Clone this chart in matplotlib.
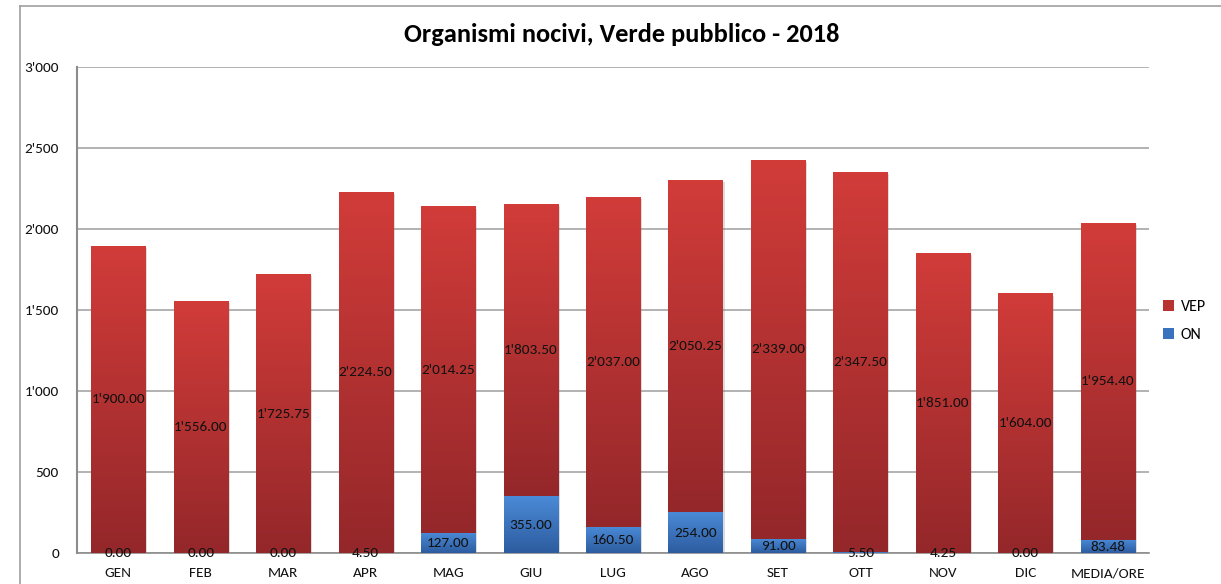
import numpy as np
import matplotlib
matplotlib.use("Agg")
import matplotlib.pyplot as plt
from matplotlib.colors import LinearSegmentedColormap
from matplotlib.lines import Line2D
import matplotlib.patheffects as pe

plt.rcParams['font.family'] = ['Carlito', 'Open Sans', 'DejaVu Sans']

mesi = ["GEN", "FEB", "MAR", "APR", "MAG", "GIU", "LUG", "AGO", "SET", "OTT", "NOV", "DIC", "MEDIA/ORE"]
on = [0.00, 0.00, 0.00, 4.50, 127.00, 355.00, 160.50, 254.00, 91.00, 5.50, 4.25, 0.00, 83.48]
vep = [1900.00, 1556.00, 1725.75, 2224.50, 2014.25, 1803.50, 2037.00, 2050.25, 2339.00, 2347.50, 1851.00, 1604.00, 1954.40]
yticks = [0, 500, 1000, 1500, 2000, 2500, 3000]


def fmt(v):
    return f"{v:,.2f}".replace(",", "'")


def fmt_tick(v):
    return f"{v:,.0f}".replace(",", "'")


red_cm = LinearSegmentedColormap.from_list("r", ["#94272a", "#d13c39"])
blue_cm = LinearSegmentedColormap.from_list("b", ["#2d5c9f", "#4b8bd8"])

fig = plt.figure(figsize=(12.21, 5.84), dpi=100)
ax = fig.add_axes([77 / 1221, 1 - 553.3 / 584, (1149 - 77) / 1221, (553.3 - 67.3) / 584])

x = np.arange(len(mesi))
w = 0.655
grad = np.linspace(0, 1, 256).reshape(-1, 1)

shadow = [pe.SimplePatchShadow(offset=(1.5, -1.5), alpha=0.25, shadow_rgbFace="#777777"), pe.Normal()]

b_on = ax.bar(x, on, w, color="#3a73bd", zorder=2, label="ON", path_effects=shadow)
b_vep = ax.bar(x, vep, w, bottom=on, color="#b83232", zorder=2, label="VEP", path_effects=shadow)

# riempimento sfumato come in Excel
for bars, cm in [(b_on, blue_cm), (b_vep, red_cm)]:
    for p in bars:
        x0, y0 = p.get_x(), p.get_y()
        h = p.get_height()
        if h <= 0:
            continue
        im = ax.imshow(grad, extent=[x0, x0 + p.get_width(), y0, y0 + h], origin="lower",
                       aspect="auto", cmap=cm, zorder=3)
        im.set_clip_path(p)

for i in range(len(mesi)):
    ax.text(x[i], on[i] / 2, fmt(on[i]), ha="center", va="center", fontsize=11, color="#111111", zorder=5)
    ax.text(x[i], on[i] + vep[i] / 2, fmt(vep[i]), ha="center", va="center", fontsize=11, color="#111111", zorder=5)

ax.set_xlim(-0.5, len(mesi) - 0.5)
ax.set_ylim(0, 3000)
ax.set_yticks(yticks)
ax.set_yticklabels([fmt_tick(v) for v in yticks])
ax.set_xticks(x)
ax.set_xticklabels(mesi)
ax.tick_params(length=0, labelsize=11, colors="#111111")
ax.tick_params(axis="y", pad=13)
ax.tick_params(axis="x", pad=10)

ax.yaxis.grid(True, color="#a6a6a6", linewidth=1.2, zorder=0)
ax.set_axisbelow(True)
for s in ["top", "right"]:
    ax.spines[s].set_visible(False)
ax.spines["left"].set_color("#8c8c8c")
ax.spines["left"].set_linewidth(1.5)
ax.spines["bottom"].set_color("#8c8c8c")
ax.spines["bottom"].set_linewidth(1.2)

fig.text(622 / 1221, 1 - 35 / 584, "Organismi nocivi, Verde pubblico - 2018", ha="center", va="center",
         fontsize=19, fontweight="bold", color="#000000")

h, l = ax.get_legend_handles_labels()
leg = fig.legend([h[1], h[0]], [l[1], l[0]], loc="center left", bbox_to_anchor=(1160 / 1221, 1 - 321 / 584),
                 frameon=False, fontsize=11.5, handlelength=0.7, handleheight=0.7, handletextpad=0.4,
                 labelspacing=0.9, borderpad=0.2, borderaxespad=0)
for hd in leg.legend_handles:
    hd.set_path_effects([])

fig.add_artist(Line2D([20 / 1221, 20 / 1221], [0, 1 - 6 / 584], color="#a0a0a0", linewidth=1.2))
fig.add_artist(Line2D([20 / 1221, 1], [1 - 6 / 584, 1 - 6 / 584], color="#a0a0a0", linewidth=1.2))

fig.savefig("out.png", dpi=100)
